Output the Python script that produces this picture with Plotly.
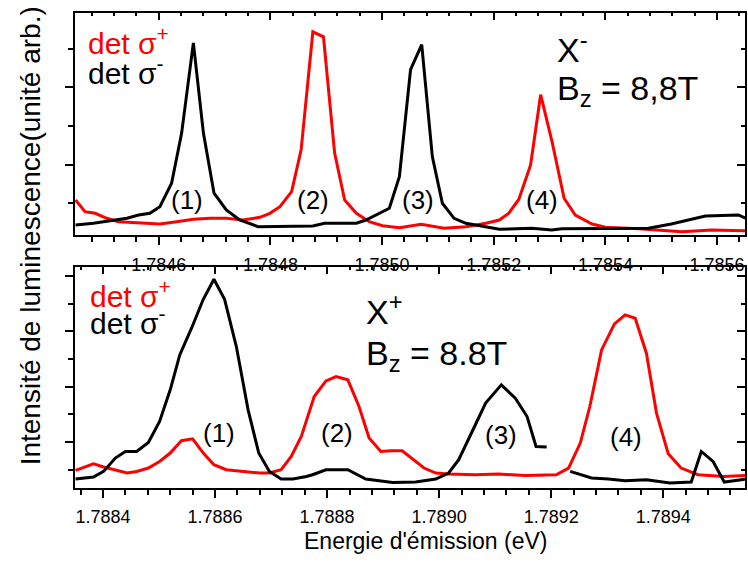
import plotly.graph_objects as go

# ---------------- Top panel (X-, Bz = 8,8T) ----------------
top_minus_E = [1.784451, 1.784483, 1.784522, 1.784543, 1.784564, 1.784584, 1.784602, 1.784623,
               1.784641, 1.784662, 1.784680, 1.784699, 1.784721, 1.784745, 1.784778, 1.784870,
               1.784876, 1.784897, 1.784954, 1.784971, 1.785013, 1.785031, 1.785051, 1.785071,
               1.785090, 1.785108, 1.785129, 1.785150, 1.785210, 1.785268, 1.785304, 1.785322,
               1.785477, 1.785518, 1.785549, 1.785579, 1.785638, 1.785652]
top_minus_I = [0.436, 0.481, 0.566, 0.610, 0.696, 0.740, 0.912, 1.519,
               2.818, 5.156, 2.818, 1.260, 0.826, 0.566, 0.392, 0.392,
               0.410, 0.481, 0.481, 0.566, 0.870, 1.691, 4.462, 5.112,
               2.210, 1.000, 0.610, 0.481, 0.325, 0.351, 0.306, 0.340,
               0.351, 0.462, 0.566, 0.670, 0.696, 0.610]

top_plus_E = [1.784451, 1.784468, 1.784486, 1.784507, 1.784528, 1.784561, 1.784584, 1.784602,
              1.784632, 1.784662, 1.784692, 1.784721, 1.784751, 1.784781, 1.784799, 1.784817,
              1.784838, 1.784855, 1.784876, 1.784895, 1.784915, 1.784933, 1.784954, 1.784977,
              1.785001, 1.785031, 1.785070, 1.785111, 1.785150, 1.785186, 1.785210, 1.785227,
              1.785245, 1.785266, 1.785284, 1.785305, 1.785326, 1.785346, 1.785376, 1.785400,
              1.785460, 1.785537, 1.785590, 1.785650]
top_plus_I = [1.086, 0.782, 0.740, 0.610, 0.522, 0.496, 0.462, 0.462,
              0.522, 0.584, 0.610, 0.610, 0.566, 0.636, 0.740, 0.912,
              1.301, 2.384, 5.442, 5.312, 2.299, 1.086, 0.740, 0.522,
              0.418, 0.366, 0.455, 0.351, 0.392, 0.481, 0.566, 0.740,
              1.104, 1.995, 3.813, 2.558, 1.130, 0.696, 0.462, 0.377,
              0.340, 0.262, 0.306, 0.288]

# ---------------- Bottom panel (X+, Bz = 8.8T) ----------------
bot_minus_E = [1.788351, 1.788383, 1.788401, 1.788422, 1.788440, 1.788460, 1.788481, 1.788501,
               1.788520, 1.788537, 1.788558, 1.788579, 1.788598, 1.788617, 1.788638, 1.788659,
               1.788678, 1.788697, 1.788718, 1.788739, 1.788763, 1.788774, 1.788798, 1.788837,
               1.788869, 1.788917, 1.788958, 1.788994, 1.789017, 1.789035, 1.789059, 1.789083,
               1.789111, 1.789136, 1.789157, 1.789173, 1.789192, None,
               1.789234, 1.789272, 1.789302, 1.789332, 1.789370, 1.789412, 1.789450, 1.789468,
               1.789489, 1.789509, 1.789548]
bot_minus_I = [0.664, 0.737, 0.939, 1.422, 1.660, 1.660, 1.985, 2.743,
               3.887, 5.150, 6.114, 7.160, 7.882, 7.160, 5.450, 3.165,
               1.603, 0.939, 0.664, 0.664, 0.758, 0.820, 1.000, 1.000,
               0.664, 0.542, 0.556, 0.664, 0.881, 1.361, 2.382, 3.407,
               4.067, 3.587, 2.923, 1.841, 1.819, None,
               0.939, 0.700, 0.664, 0.603, 0.639, 0.520, 0.556, 1.660,
               1.300, 0.556, 0.664]

bot_plus_E = [1.788351, 1.788383, 1.788401, 1.788422, 1.788443, 1.788460, 1.788481, 1.788501,
              1.788520, 1.788540, 1.788560, 1.788579, 1.788598, 1.788620, 1.788656, 1.788680,
              1.788697, 1.788718, 1.788736, 1.788754, 1.788777, 1.788798, 1.788816, 1.788837,
              1.788857, 1.788875, 1.788896, 1.788914, 1.788934, 1.788955, 1.788973, 1.788994,
              1.789017, 1.789065, 1.789106, 1.789154, 1.789209, 1.789231, 1.789252, 1.789269,
              1.789290, 1.789313, 1.789332, 1.789350, 1.789370, 1.789388, 1.789409, 1.789432,
              1.789462, 1.789509, 1.789548]
bot_plus_I = [0.975, 1.217, 1.097, 1.000, 0.881, 0.939, 1.061, 1.300,
              1.603, 2.047, 2.119, 1.603, 1.180, 1.000, 0.939, 0.881,
              0.881, 1.000, 1.480, 2.202, 3.645, 4.212, 4.367, 4.248,
              3.284, 2.144, 1.660, 1.686, 1.686, 1.361, 1.061, 0.881,
              0.845, 0.820, 0.845, 0.794, 0.820, 1.061, 1.964, 3.284,
              5.331, 6.269, 6.594, 6.474, 5.211, 3.046, 1.577, 1.061,
              0.820, 0.758, 0.794]

top_xrange = [1.78445, 1.78565]
top_yrange = [0.177, 5.93]
bot_xrange = [1.78835, 1.789546]
bot_yrange = [0.34, 8.337]
top_tick0 = 1.7846
bot_tick0 = 1.7884

RED = "#ff0000"
BLACK = "#000000"
FONT = "Liberation Sans, Arial, sans-serif"
LW = 3

fig = go.Figure()
fig.add_trace(go.Scatter(x=top_plus_E, y=top_plus_I, mode="lines", line=dict(color=RED, width=LW),
                         xaxis="x", yaxis="y", showlegend=False))
fig.add_trace(go.Scatter(x=top_minus_E, y=top_minus_I, mode="lines", line=dict(color=BLACK, width=LW),
                         xaxis="x", yaxis="y", showlegend=False))
fig.add_trace(go.Scatter(x=bot_plus_E, y=bot_plus_I, mode="lines", line=dict(color=RED, width=LW),
                         xaxis="x2", yaxis="y2", showlegend=False))
fig.add_trace(go.Scatter(x=bot_minus_E, y=bot_minus_I, mode="lines", line=dict(color=BLACK, width=LW),
                         xaxis="x2", yaxis="y2", showlegend=False, connectgaps=False))
# dummy traces so that the mirrored (inside-tick) axes are drawn
for xa, ya in [("x3", "y"), ("x", "y3"), ("x4", "y2"), ("x2", "y4")]:
    fig.add_trace(go.Scatter(x=[None], y=[None], xaxis=xa, yaxis=ya, showlegend=False,
                             hoverinfo="skip"))

top_dom = [0.5326, 1.0]
bot_dom = [0.0, 0.4659]

def xmain(rng, t0, dom_anchor, standoff):
    return dict(range=rng, anchor=dom_anchor, showline=True, linecolor="black", linewidth=1.5,
                mirror=True, ticks="outside", ticklen=8, tickwidth=1.5, tickcolor="black",
                tick0=t0, dtick=0.0002, tickformat=".4f", showgrid=False, zeroline=False,
                ticklabeloverflow="allow", ticklabelstandoff=standoff,
                tickfont=dict(family=FONT, size=18, color="black"),
                minor=dict(ticks="outside", ticklen=5, tickwidth=1.5, tickcolor="black",
                           tick0=t0, dtick=0.00004, showgrid=False))

def xmirror(rng, t0, over, anchor):
    return dict(range=rng, overlaying=over, anchor=anchor, side="top", showline=False,
                ticks="inside", ticklen=7, tickwidth=1.5, tickcolor="black",
                tick0=t0, dtick=0.0002, showticklabels=False, showgrid=False, zeroline=False,
                minor=dict(ticks="inside", ticklen=3, tickwidth=1.5, tickcolor="black",
                           tick0=t0, dtick=0.00004, showgrid=False))

def ymain(rng, dom, anchor):
    return dict(range=rng, domain=dom, anchor=anchor, showline=True, linecolor="black", linewidth=1.5,
                mirror=True, ticks="outside", ticklen=8, tickwidth=1.5, tickcolor="black",
                tick0=0, dtick=2, showticklabels=False, showgrid=False, zeroline=False,
                minor=dict(ticks="outside", ticklen=5, tickwidth=1.5, tickcolor="black",
                           tick0=0, dtick=1, showgrid=False))

def ymirror(rng, over, anchor):
    return dict(range=rng, overlaying=over, anchor=anchor, side="right", showline=False,
                ticks="inside", ticklen=8, tickwidth=1.5, tickcolor="black",
                tick0=0, dtick=2, showticklabels=False, showgrid=False, zeroline=False,
                minor=dict(ticks="inside", ticklen=4, tickwidth=1.5, tickcolor="black",
                           tick0=0, dtick=1, showgrid=False))

fig.update_layout(
    width=748, height=562,
    margin=dict(l=75, r=1, t=13, b=74),
    paper_bgcolor="white", plot_bgcolor="white",
    font=dict(family=FONT, color="black"),
    xaxis=xmain(top_xrange, top_tick0, "y", 5),
    yaxis=ymain(top_yrange, top_dom, "x"),
    xaxis2=xmain(bot_xrange, bot_tick0, "y2", 4),
    yaxis2=ymain(bot_yrange, bot_dom, "x2"),
    xaxis3=xmirror(top_xrange, top_tick0, "x", "y"),
    yaxis3=ymirror(top_yrange, "y", "x"),
    xaxis4=xmirror(bot_xrange, bot_tick0, "x2", "y2"),
    yaxis4=ymirror(bot_yrange, "y2", "x2"),
)

def txt(x, y, text, size, color="black", xanchor="left", yanchor="middle", angle=0):
    fig.add_annotation(x=x, y=y, xref="paper", yref="paper", text=text, showarrow=False,
                       xanchor=xanchor, yanchor=yanchor, textangle=angle,
                       font=dict(family=FONT, size=size, color=color))

# top panel texts
txt(0.0163, 0.941, "det σ<sup>+</sup>", 30, RED)
txt(0.0163, 0.878, "det σ<sup>-</sup>", 30)
txt(0.716, 0.927, "X<sup>-</sup>", 34)
txt(0.716, 0.8368, "B<sub>z</sub> = 8,8T", 34)
for xp, lab in [(0.1674, "(1)"), (0.3557, "(2)"), (0.5126, "(3)"), (0.6964, "(4)")]:
    txt(xp, 0.6063, lab, 26, xanchor="center")

# bottom panel texts
txt(0.0193, 0.4074, "det σ<sup>+</sup>", 30, RED)
txt(0.0193, 0.3516, "det σ<sup>-</sup>", 30)
txt(0.431, 0.3768, "X<sup>+</sup>", 34)
txt(0.431, 0.2779, "B<sub>z</sub> = 8.8T", 34)
for xp, yp, lab in [(0.2143, 0.1158, "(1)"), (0.3906, 0.1158, "(2)"),
                    (0.6362, 0.1116, "(3)"), (0.8222, 0.1074, "(4)")]:
    txt(xp, yp, lab, 26, xanchor="center")

# axis titles
txt(0.5238, -0.1116, "Energie d'émission (eV)", 23, xanchor="center")
txt(-0.067, 0.53, "Intensité de luminescence(unité arb.)", 28, xanchor="center", angle=-90)

fig.write_html("out.html", config={"displayModeBar": False},
               post_script="document.body.style.margin='0px';document.body.style.overflow='hidden';")
